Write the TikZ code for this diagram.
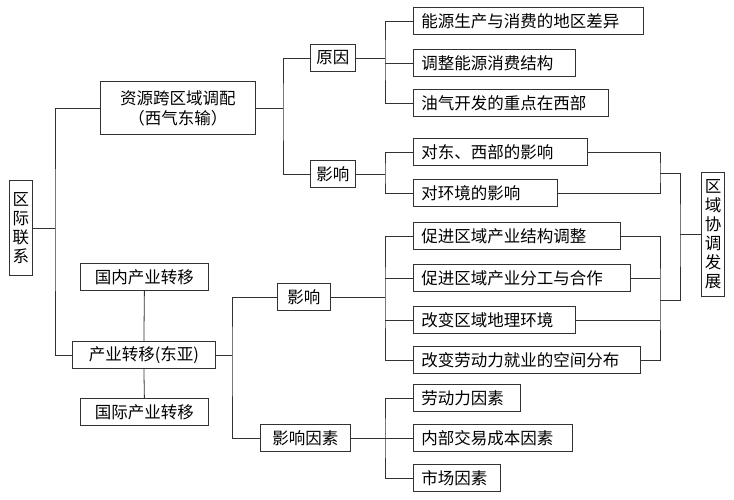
\documentclass[tikz,border=0pt]{standalone}
\usepackage{fontspec}
\setmainfont{Noto Sans CJK SC}
\usetikzlibrary{positioning, calc}
\definecolor{FrameGray}{RGB}{50, 50, 50}

\begin{document}
\begin{tikzpicture}[
    x=1pt, y=-1pt,
    font=\fontsize{16.5}{19}\selectfont,
    % Styles
    box/.style={rectangle, thick, draw=FrameGray, fill=white, inner xsep=5pt, minimum height=27pt, align=center, anchor=west},
    item/.style={box, inner xsep=8pt, text width=#1-16pt, align=left},
    vbox/.style={rectangle, thick, draw=FrameGray, fill=white, inner sep=3pt, text width=17pt, align=center},
    line/.style={thick, -, color=FrameGray}
]
\useasboundingbox (0,0) rectangle (734,500);

% Left side
\node[vbox, minimum height=95pt] (link) at (21,228) {区\\际\\联\\系};
\node[box, minimum width=155pt, minimum height=53pt, font=\fontsize{16.5}{20}\selectfont] (gas) at (100,108) {资源跨区域调配\\（西气东输）};
\node[box, minimum width=143pt] (shift) at (72,355) {产业转移(东亚)};
\node[box, minimum width=128pt] (home) at (80,277) {国内产业转移};
\node[box, minimum width=128pt] (intl) at (80,412) {国际产业转移};

% Middle
\node[box, minimum width=45pt] (cause) at (310,58) {原因};
\node[box, minimum width=45pt] (effA) at (310,174) {影响};
\node[box, minimum width=53pt] (effB) at (277,297) {影响};
\node[box, minimum width=90pt] (factor) at (260,438) {影响因素};

% Right column
\node[item=230pt] (c1) at (413,21) {能源生产与消费的地区差异};
\node[item=162pt] (c2) at (413,63) {调整能源消费结构};
\node[item=195pt] (c3) at (413,103) {油气开发的重点在西部};
\node[item=174pt] (e1) at (413,152) {对东、西部的影响};
\node[item=144pt] (e2) at (413,193) {对环境的影响};
\node[item=207pt] (s1) at (413,236) {促进区域产业结构调整};
\node[item=217pt] (s2) at (413,278) {促进区域产业分工与合作};
\node[item=162pt] (s3) at (413,320) {改变区域地理环境};
\node[item=227pt] (s4) at (413,360) {改变劳动力就业的空间分布};
\node[item=107pt] (f1) at (413,398) {劳动力因素};
\node[item=159pt] (f2) at (413,438) {内部交易成本因素};
\node[item=87pt] (f3) at (413,478) {市场因素};

\node[vbox, minimum height=124pt] (goal) at (713,234) {区\\域\\协\\调\\发\\展};

% Brackets
\coordinate (j1) at (55,228);
\draw[line] (link.east) -- (j1);
\draw[line] (gas.west) -| (j1) |- (shift.west);

\coordinate (j2) at (283,108);
\draw[line] (gas.east) -- (j2);
\draw[line] (cause.west) -| (j2) |- (effA.west);

\coordinate (j3) at (385,58);
\draw[line] (cause.east) -- (j3);
\draw[line] (c1.west) -| (j3) |- (c3.west);
\draw[line] (c2.west) -- (c2.west -| j3);

\coordinate (j4) at (385,174);
\draw[line] (effA.east) -- (j4);
\draw[line] (e1.west) -| (j4) |- (e2.west);

\draw[line] (home.south) -- (shift.north);
\draw[line] (shift.south) -- (intl.north);

\coordinate (j5) at (232,355);
\draw[line] (shift.east) -- (j5);
\draw[line] (effB.west) -| (j5) |- (factor.west);

\coordinate (j6) at (385,297);
\draw[line] (effB.east) -- (j6);
\draw[line] (s1.west) -| (j6) |- (s4.west);
\draw[line] (s2.west) -- (s2.west -| j6);
\draw[line] (s3.west) -- (s3.west -| j6);

\coordinate (j7) at (385,438);
\draw[line] (factor.east) -- (j7);
\draw[line] (f1.west) -| (j7) |- (f3.west);
\draw[line] (f2.west) -- (f2.west -| j7);

% Right brackets to goal
\coordinate (k1) at (660,173);
\coordinate (k2) at (660,300);
\coordinate (k3) at (680,234);
\draw[line] (e1.east) -| (k1) |- (e2.east);
\draw[line] (s1.east) -| (k2) |- (s4.east);
\draw[line] (s2.east) -- (s2.east -| k2);
\draw[line] (s3.east) -- (s3.east -| k2);
\draw[line] (k1) -| (k3) |- (k2);
\draw[line] (k3) -- (goal.west);

\end{tikzpicture}
\end{document}
